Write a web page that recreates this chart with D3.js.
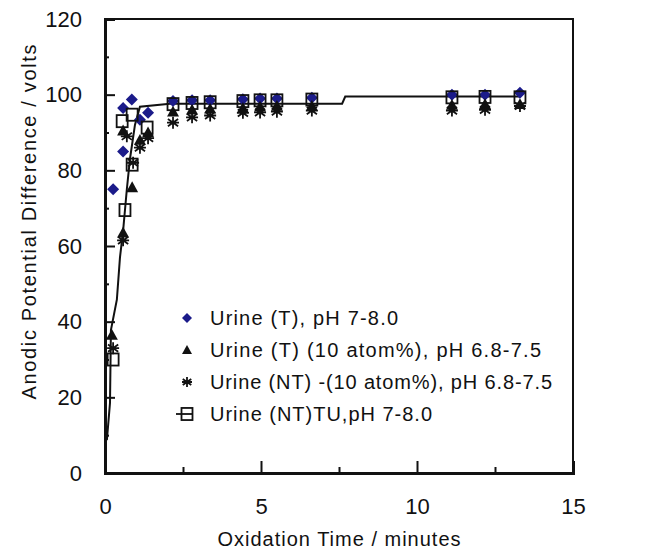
<!DOCTYPE html>
<html>
<head>
<meta charset="utf-8">
<script src="https://cdn.jsdelivr.net/npm/d3@7"></script>
<style>
  html, body { margin: 0; padding: 0; background: #fff; }
  svg { display: block; }
  text { font-family: "Liberation Sans", Arial, sans-serif; fill: #111; }
</style>
</head>
<body>
<svg id="chart" width="659" height="552"></svg>
<script>
// Oxidation time (min) vs anodic potential difference (volts)
const seriesNames = [
  "Urine (T), pH 7-8.0",
  "Urine (T) (10 atom%), pH 6.8-7.5",
  "Urine (NT) -(10 atom%), pH 6.8-7.5",
  "Urine (NT)TU,pH 7-8.0"
];

const diamondT = [0.26, 0.58, 0.58, 0.86, 1.12, 1.38, 2.18, 2.79, 3.37, 4.42, 4.97, 5.51, 6.63, 11.12, 12.18, 13.3];
const diamondV = [75, 85, 96.5, 98.7, 93.4, 95.2, 98.3, 98.5, 98.5, 98.8, 99, 99, 99.2, 100, 100, 100.5];

const triangleT = [0.22, 0.58, 0.58, 0.87, 1.12, 1.38, 2.18, 2.79, 3.37, 4.42, 4.97, 5.51, 6.63, 11.12, 12.18, 13.3];
const triangleV = [36.5, 63.5, 90.5, 75.5, 88, 90, 95.5, 96, 96.3, 96.5, 96.8, 97, 97, 97.3, 97.5, 97.5];

const starT = [0.26, 0.58, 0.7, 0.9, 1.12, 1.38, 2.18, 2.79, 3.37, 4.42, 4.97, 5.51, 6.63, 11.12, 12.18, 13.3];
const starV = [33, 61.5, 89, 82, 86, 88.5, 92.6, 94, 94.5, 95.2, 95.3, 95.5, 95.8, 95.8, 96, 97];

const squareT = [0.26, 0.64, 0.87, 0.55, 0.87, 1.35, 2.18, 2.79, 3.37, 4.42, 4.97, 5.51, 6.63, 11.12, 12.18, 13.3];
const squareV = [30, 69.5, 81.5, 93, 94.7, 91.3, 97.5, 97.8, 98, 98.3, 98.5, 98.5, 98.7, 99.3, 99.4, 99.3];

// fitted trend line
const fitT = [0.06, 0.16, 0.19, 0.38, 0.48, 0.58, 0.7, 0.8, 0.96, 1.12, 2.08, 7.6, 7.7, 13.3];
const fitV = [8.7, 18.5, 37.8, 45.8, 57, 64, 75, 83, 92, 96.8, 97.6, 97.6, 99.5, 99.5];

const xTicks = [0, 5, 10, 15];
const xMinorTicks = [2.5, 7.5, 12.5];
const yTicks = [0, 20, 40, 60, 80, 100, 120];
const yMinorTicks = [10, 30, 50, 70, 90, 110];

const xTitle = "Oxidation Time / minutes";
const yTitle = "Anodic Potential Difference / volts";

const svg = d3.select("#chart");
svg.append("rect").attr("width", 659).attr("height", 552).attr("fill", "#fff");

const x = d3.scaleLinear().domain([0, 15]).range([105, 573]);
const y = d3.scaleLinear().domain([0, 120]).range([473, 19]);

const zip = (ts, vs) => ts.map((t, i) => ({ t, v: vs[i] }));

// frame
svg.append("rect")
  .attr("x", x(0)).attr("y", y(120))
  .attr("width", x(15) - x(0)).attr("height", y(0) - y(120))
  .attr("fill", "none").attr("stroke", "#111").attr("stroke-width", 2);

// bottom axis
const gx = svg.append("g").attr("transform", `translate(0,${y(0)})`);
gx.call(d3.axisBottom(x).tickValues(xTicks).tickSize(-12).tickPadding(25).tickFormat(d3.format("d")));
gx.append("g").call(d3.axisBottom(x).tickValues(xMinorTicks).tickSize(-6).tickFormat(""));
// left axis
const gy = svg.append("g").attr("transform", `translate(${x(0)},0)`);
gy.call(d3.axisLeft(y).tickValues(yTicks).tickSize(-10).tickPadding(23).tickFormat(d3.format("d")));
gy.append("g").call(d3.axisLeft(y).tickValues(yMinorTicks).tickSize(-4).tickFormat(""));

svg.selectAll(".domain").attr("stroke", "#111").attr("stroke-width", 3);
svg.selectAll(".tick line").attr("stroke", "#111").attr("stroke-width", 2);
svg.selectAll(".tick text").attr("font-size", 22).attr("fill", "#111")
  .attr("font-family", '"Liberation Sans", Arial, sans-serif');

// fitted line
svg.append("path")
  .datum(zip(fitT, fitV))
  .attr("fill", "none").attr("stroke", "#111").attr("stroke-width", 2)
  .attr("d", d3.line().x(d => x(d.t)).y(d => y(d.v)));

// marker painters
const painters = {
  diamond: (g, s) => g.append("path")
    .attr("d", `M0,${-s}L${s},0L0,${s}L${-s},0Z`).attr("fill", "#1b1b8a"),
  triangle: (g, s) => g.append("path")
    .attr("d", `M0,${-s}L${s},${s * 0.8}L${-s},${s * 0.8}Z`).attr("fill", "#111"),
  star: (g, s) => g.append("path")
    .attr("d", `M0,${-s}V${s}M${-s * 0.85},${-s * 0.6}L${s * 0.85},${s * 0.6}M${-s * 0.85},${s * 0.6}L${s * 0.85},${-s * 0.6}M${-s},0H${s}`)
    .attr("fill", "none").attr("stroke", "#111").attr("stroke-width", 1.8),
  square: (g, s) => g.append("rect")
    .attr("x", -s).attr("y", -s * 1.1).attr("width", 2 * s).attr("height", 2.2 * s)
    .attr("fill", "none").attr("stroke", "#111").attr("stroke-width", 1.8)
};

const layers = [
  { kind: "diamond", data: zip(diamondT, diamondV), size: 6 },
  { kind: "triangle", data: zip(triangleT, triangleV), size: 6 },
  { kind: "star", data: zip(starT, starV), size: 6 },
  { kind: "square", data: zip(squareT, squareV), size: 5.5 }
];

layers.forEach(layer => {
  svg.append("g").selectAll("g").data(layer.data).join("g")
    .attr("transform", d => `translate(${x(d.t)},${y(d.v)})`)
    .each(function () { painters[layer.kind](d3.select(this), layer.size); });
});

// legend
const legendRows = [318, 350, 382, 414];
const legendWidths = [188, 331, 342, 222];
const legendKinds = ["diamond", "triangle", "star", "square"];
const legend = svg.append("g");
seriesNames.forEach((name, i) => {
  const row = legend.append("g").attr("transform", `translate(187,${legendRows[i]})`);
  painters[legendKinds[i]](row, legendKinds[i] === "square" ? 5.5 : 5);
  if (legendKinds[i] === "square") {
    row.append("line").attr("x1", -11).attr("x2", 6).attr("y1", 0).attr("y2", 0)
      .attr("stroke", "#111").attr("stroke-width", 1.8);
  }
  legend.append("text")
    .attr("x", 210).attr("y", legendRows[i] + 7)
    .attr("font-size", 20)
    .attr("textLength", legendWidths[i]).attr("lengthAdjust", "spacing")
    .text(name);
});

// axis titles
svg.append("text")
  .attr("x", 339).attr("y", 546)
  .attr("text-anchor", "middle").attr("font-size", 20)
  .attr("textLength", 243).attr("lengthAdjust", "spacing")
  .text(xTitle);

svg.append("text")
  .attr("transform", "translate(36,222) rotate(-90)")
  .attr("text-anchor", "middle").attr("font-size", 20)
  .attr("textLength", 355).attr("lengthAdjust", "spacing")
  .text(yTitle);
</script>
</body>
</html>
